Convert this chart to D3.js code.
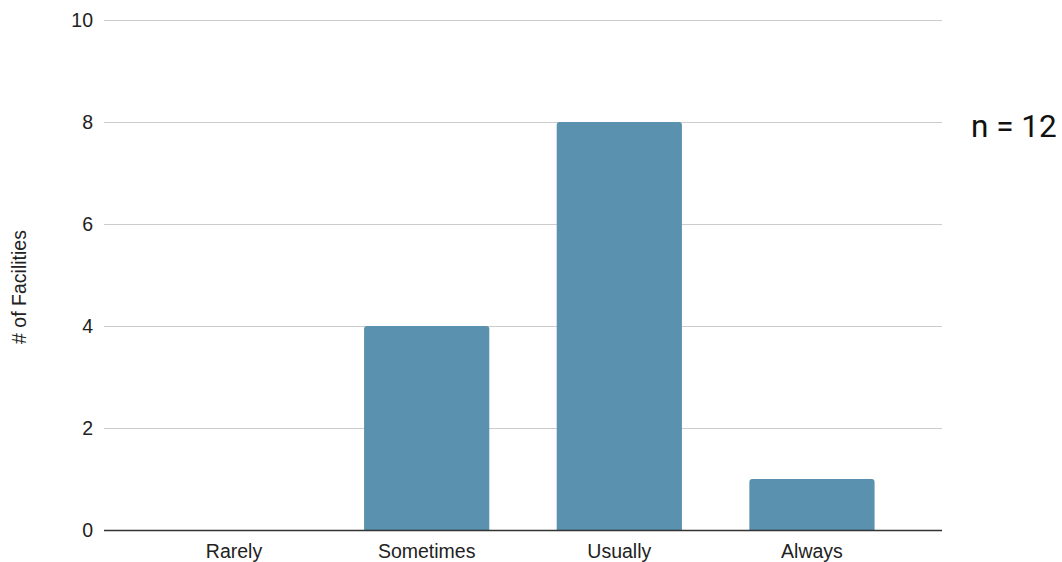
<!DOCTYPE html>
<html><head><meta charset="utf-8">
<script src="https://cdn.jsdelivr.net/npm/d3@7"></script>
<style>body{margin:0;background:#fff}</style>
</head><body>
<svg id="c" width="1062" height="562"></svg>
<script>
const categories = ["Rarely", "Sometimes", "Usually", "Always"];
const values = [0, 4, 8, 1];
const yTicks = [0, 2, 4, 6, 8, 10];
const yTitle = "# of Facilities";
const note = "n = 12";

const svg = d3.select("#c");
const pLeft = 104, pRight = 942, pTop = 20, pBottom = 530;
const font = "'Liberation Sans', Arial, sans-serif";
const fs = 19.5;

const x = d3.scaleBand().domain(categories).range([pLeft, pRight]).paddingInner(0.35).paddingOuter(0.35);
const y = d3.scaleLinear().domain([0, 10]).range([pBottom, pTop]);

// gridlines
svg.append("g").selectAll("line").data(yTicks.filter(d => d !== 0)).join("line")
  .attr("x1", pLeft).attr("x2", pRight)
  .attr("y1", d => y(d) + 0.5).attr("y2", d => y(d) + 0.5)
  .attr("stroke", "#cccccc").attr("stroke-width", 1);

// y tick labels
svg.append("g").selectAll("text").data(yTicks).join("text")
  .attr("x", 93).attr("y", d => y(d)).attr("dy", "0.36em")
  .attr("text-anchor", "end").attr("font-family", font).attr("font-size", fs)
  .attr("fill", "#222").text(d => d);

// bars with rounded top corners
const r = 3;
svg.append("g").selectAll("path").data(values.map((v, i) => ({c: categories[i], v})).filter(d => d.v > 0)).join("path")
  .attr("fill", "#5991ae")
  .attr("d", d => {
    const x0 = x(d.c), w = x.bandwidth(), y0 = y(d.v), y1 = y(0);
    return `M${x0},${y1}V${y0 + r}Q${x0},${y0} ${x0 + r},${y0}H${x0 + w - r}Q${x0 + w},${y0} ${x0 + w},${y0 + r}V${y1}Z`;
  });

// baseline
svg.append("line").attr("x1", pLeft).attr("x2", pRight)
  .attr("y1", y(0) + 0.5).attr("y2", y(0) + 0.5)
  .attr("stroke", "#333333").attr("stroke-width", 1.3);

// x labels
svg.append("g").selectAll("text").data(categories).join("text")
  .attr("x", d => x(d) + x.bandwidth() / 2).attr("y", 558)
  .attr("text-anchor", "middle").attr("font-family", font).attr("font-size", fs)
  .attr("fill", "#222").text(d => d);

// y title
svg.append("text").attr("transform", "translate(26,287) rotate(-90)")
  .attr("text-anchor", "middle").attr("font-family", font).attr("font-size", fs)
  .attr("fill", "#222").text(yTitle);

// note
svg.append("text").attr("x", 971).attr("y", 137)
  .attr("font-family", "Roboto, sans-serif").attr("font-size", 31.5)
  .attr("fill", "#111").text(note);
</script>
</body></html>
